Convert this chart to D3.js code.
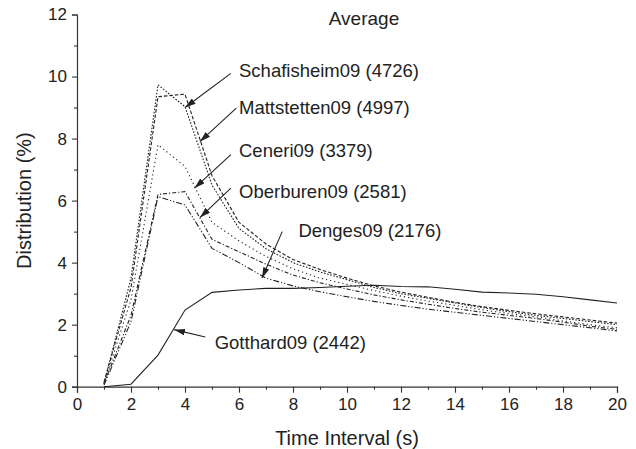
<!DOCTYPE html>
<html>
<head>
<meta charset="utf-8">
<script src="https://cdn.jsdelivr.net/npm/d3@7/dist/d3.min.js"></script>
<style>
  body { margin: 0; background: #fff; }
  svg { display: block; }
  text { font-family: "Liberation Sans", Arial, sans-serif; fill: #222; }
</style>
</head>
<body>
<script>
// time interval (s)
const timeIntervals = [1, 2, 3, 4, 5, 6, 7, 8, 9, 10, 11, 12, 13, 14, 15, 16, 17, 18, 19, 20];

// distribution (%) per site
const schafisheim = [0.1, 3.5, 9.73, 9.03, 6.5, 5.1, 4.45, 4.0, 3.7, 3.45, 3.2, 3.0, 2.85, 2.7, 2.55, 2.42, 2.3, 2.2, 2.1, 2.0];
const mattstetten = [0.15, 3.2, 9.35, 9.43, 6.8, 5.3, 4.6, 4.1, 3.78, 3.5, 3.25, 3.05, 2.88, 2.72, 2.58, 2.46, 2.35, 2.25, 2.15, 2.05];
const ceneri = [0.1, 2.8, 7.8, 7.1, 5.3, 4.7, 4.2, 3.8, 3.5, 3.3, 3.1, 2.92, 2.76, 2.62, 2.48, 2.36, 2.25, 2.12, 2.0, 1.9];
const oberburen = [0.1, 2.3, 6.2, 6.29, 4.75, 4.35, 3.95, 3.6, 3.35, 3.15, 2.96, 2.8, 2.66, 2.52, 2.4, 2.3, 2.2, 2.08, 1.95, 1.85];
const denges = [0.05, 2.1, 6.13, 5.86, 4.46, 4.0, 3.5, 3.25, 3.06, 2.9, 2.75, 2.62, 2.5, 2.4, 2.3, 2.2, 2.1, 2.0, 1.9, 1.8];
const gotthard = [0.0, 0.08, 1.02, 2.47, 3.04, 3.12, 3.17, 3.17, 3.2, 3.24, 3.27, 3.23, 3.22, 3.14, 3.05, 3.02, 2.98, 2.9, 2.8, 2.7];

const seriesNames = ['Schafisheim09', 'Mattstetten09', 'Ceneri09', 'Oberburen09', 'Denges09', 'Gotthard09'];
const seriesCounts = [4726, 4997, 3379, 2581, 2176, 2442];
const seriesValues = [schafisheim, mattstetten, ceneri, oberburen, denges, gotthard];

const xTicks = [0, 2, 4, 6, 8, 10, 12, 14, 16, 18, 20];
const yTicks = [0, 2, 4, 6, 8, 10, 12];

// label anchor (data units) and arrow ends (data units)
const labelAt = [[6.0, 10.2], [6.0, 9.0], [6.0, 7.62], [6.0, 6.3], [8.2, 5.05], [5.1, 1.42]];
const arrowFrom = [[5.7, 10.1], [5.9, 8.98], [5.7, 7.48], [5.7, 6.4], [7.6, 5.0], [4.75, 1.6]];
const arrowTo = [[4.0, 9.0], [4.55, 7.9], [4.35, 6.4], [4.55, 5.45], [6.85, 3.5], [3.6, 1.84]];

const dashes = ['1.6,1.6', '3.5,2', '1.2,3', '4,2,1.2,2', '6,2,1.2,2,1.2,2', null];

const width = 636;
const height = 449;

const svg = d3.select('body').append('svg')
  .attr('width', width)
  .attr('height', height);

svg.append('defs').append('marker')
  .attr('id', 'arrow')
  .attr('viewBox', '0 0 10 6')
  .attr('refX', 10)
  .attr('refY', 3)
  .attr('markerWidth', 11)
  .attr('markerHeight', 6.5)
  .attr('markerUnits', 'userSpaceOnUse')
  .attr('orient', 'auto')
  .append('path')
    .attr('d', 'M0,0L10,3L0,6Z')
    .attr('fill', '#222');

const x = d3.scaleLinear().domain([0, 20]).range([77, 617]);
const y = d3.scaleLinear().domain([0, 12]).range([386.7, 14.5]);

// axes: major ticks with labels, then minor ticks
svg.append('g')
  .attr('transform', `translate(0,${y(0)})`)
  .call(d3.axisBottom(x).tickValues(xTicks).tickSize(6).tickPadding(5).tickFormat(d3.format('d')));
svg.append('g')
  .attr('transform', `translate(0,${y(0)})`)
  .call(d3.axisBottom(x).tickValues(d3.range(1, 20, 2)).tickSize(3).tickFormat(''))
  .select('.domain').remove();

svg.append('g')
  .attr('transform', `translate(${x(0)},0)`)
  .call(d3.axisLeft(y).tickValues(yTicks).tickSize(5).tickPadding(5).tickFormat(d3.format('d')));
svg.append('g')
  .attr('transform', `translate(${x(0)},0)`)
  .call(d3.axisLeft(y).tickValues(d3.range(1, 12, 2)).tickSize(3).tickFormat(''))
  .select('.domain').remove();

svg.selectAll('.domain').attr('stroke', '#333').attr('stroke-width', 1.2);
svg.selectAll('.tick line').attr('stroke', '#333').attr('stroke-width', 1.1);
svg.selectAll('.tick text')
  .attr('font-size', 17)
  .attr('font-family', '"Liberation Sans", Arial, sans-serif')
  .attr('fill', '#222');

// series
const line = d3.line()
  .x((d, i) => x(timeIntervals[i]))
  .y(d => y(d));

svg.append('g')
  .selectAll('path')
  .data(seriesValues)
  .enter().append('path')
    .attr('d', d => line(d))
    .attr('fill', 'none')
    .attr('stroke', '#222')
    .attr('stroke-width', 1.1)
    .attr('stroke-dasharray', (d, i) => dashes[i]);

// annotations
const notes = svg.append('g');
seriesNames.forEach((name, i) => {
  notes.append('line')
    .attr('x1', x(arrowFrom[i][0]))
    .attr('y1', y(arrowFrom[i][1]))
    .attr('x2', x(arrowTo[i][0]))
    .attr('y2', y(arrowTo[i][1]))
    .attr('stroke', '#222')
    .attr('stroke-width', 1.1)
    .attr('marker-end', 'url(#arrow)');
  notes.append('text')
    .attr('x', x(labelAt[i][0]))
    .attr('y', y(labelAt[i][1]))
    .attr('dy', '0.35em')
    .attr('font-size', 18.5)
    .text(`${name} (${seriesCounts[i]})`);
});

svg.append('text')
  .attr('x', 364)
  .attr('y', 18)
  .attr('dy', '0.35em')
  .attr('text-anchor', 'middle')
  .attr('font-size', 19)
  .text('Average');

svg.append('text')
  .attr('x', (x(0) + x(20)) / 2)
  .attr('y', 438)
  .attr('dy', '0.35em')
  .attr('text-anchor', 'middle')
  .attr('font-size', 20)
  .text('Time Interval (s)');

svg.append('text')
  .attr('transform', `translate(24,${y(6)}) rotate(-90)`)
  .attr('dy', '0.35em')
  .attr('text-anchor', 'middle')
  .attr('font-size', 20)
  .text('Distribution (%)');
</script>
</body>
</html>
